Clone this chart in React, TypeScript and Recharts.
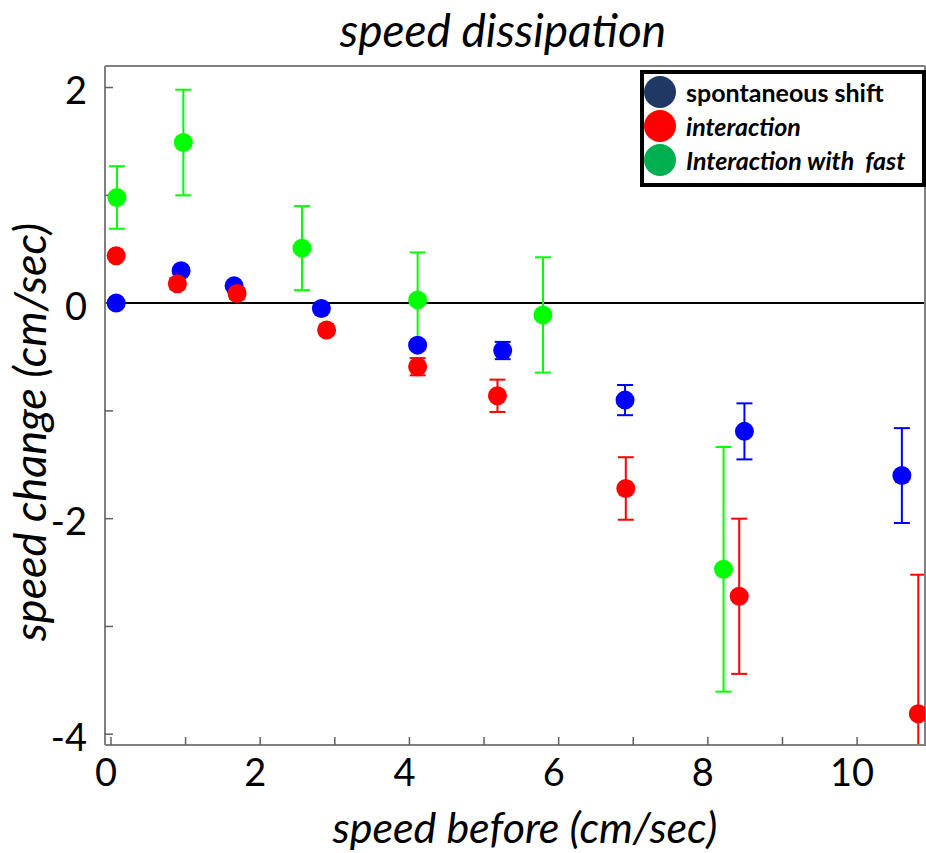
import React from 'react';
import { ScatterChart, Scatter, XAxis, YAxis, ErrorBar, ReferenceLine } from 'recharts';

// spontaneous shift (blue)
const spontX = [0.07, 0.94, 1.65, 2.82, 4.11, 5.25, 6.89, 8.49, 10.6];
const spontY = [0.0, 0.3, 0.16, -0.05, -0.39, -0.44, -0.9, -1.19, -1.6];
const spontErr = [0.02, 0.03, 0.03, 0.03, 0.03, 0.08, 0.14, 0.26, 0.44];

// interaction (red) - last point's lower bar runs off the axis, cut at the frame
const interX = [0.07, 0.89, 1.69, 2.89, 4.11, 5.18, 6.9, 8.42, 10.82];
const interY = [0.44, 0.18, 0.09, -0.25, -0.59, -0.86, -1.72, -2.72, -3.81];
const interErr: (number | number[])[] = [0.02, 0.05, 0.05, 0.03, 0.08, 0.15, 0.29, 0.72, [0.29, 1.29]];

// interaction with fast (green)
const fastX = [0.08, 0.97, 2.56, 4.11, 5.79, 8.21];
const fastY = [0.98, 1.49, 0.51, 0.03, -0.11, -2.47];
const fastErr = [0.29, 0.49, 0.39, 0.44, 0.535, 1.135];

const xTicks = [0, 1, 2, 3, 4, 5, 6, 7, 8, 9, 10];
const yTicks = [-4, -3, -2, -1, 0, 1, 2];

const legendItems = [
  { label: 'spontaneous shift', color: '#1f3864', italic: false },
  { label: 'interaction', color: '#ff0000', italic: true },
  { label: 'Interaction with  fast', color: '#00b050', italic: true },
];

const font = 'Lato, "Open Sans", sans-serif';

const toRows = (xs: number[], ys: number[], es: (number | number[])[]) =>
  xs.map((x, i) => ({ x, y: ys[i], err: es[i] }));

const dot = (color: string) => (p: any) => <circle cx={p.cx} cy={p.cy} r={9.5} fill={color} />;

const evenOnly = (v: number) => (v % 2 === 0 ? String(v) : '');

const axisStroke = { stroke: '#808080', strokeWidth: 2 };
const tickStroke = { stroke: '#606060', strokeWidth: 1.5 };

const App: React.FC = () => {
  return (
    <div style={{ position: 'absolute', left: 0, top: 0, width: 926, height: 853, background: '#fff', fontFamily: font, overflow: 'hidden' }}>
      <div style={{ position: 'absolute', left: 253, top: 6, width: 500, textAlign: 'center', fontSize: 46, fontStyle: 'italic', lineHeight: '48px' }}>
        speed dissipation
      </div>
      <ScatterChart width={926} height={853} margin={{ top: 65, right: 0, bottom: 48, left: 45 }}>
        <XAxis
          type="number"
          dataKey="x"
          domain={[-0.08, 10.91]}
          ticks={xTicks}
          interval={0}
          allowDataOverflow
          height={60}
          tickSize={-8}
          tickMargin={22}
          tickFormatter={evenOnly}
          axisLine={axisStroke}
          tickLine={tickStroke}
          tick={{ fill: '#000', fontSize: 38, fontFamily: font, dx: -5 }}
        />
        <XAxis
          xAxisId="top"
          orientation="top"
          type="number"
          domain={[-0.08, 10.91]}
          ticks={xTicks}
          interval={0}
          allowDataOverflow
          height={1}
          tickSize={-8}
          axisLine={axisStroke}
          tickLine={tickStroke}
          tick={false}
        />
        <YAxis
          type="number"
          dataKey="y"
          domain={[-4.1, 2.2]}
          ticks={yTicks}
          interval={0}
          allowDataOverflow
          width={60}
          tickSize={-8}
          tickMargin={26}
          tickFormatter={evenOnly}
          axisLine={axisStroke}
          tickLine={tickStroke}
          tick={{ fill: '#000', fontSize: 38, fontFamily: font, dy: 3 }}
        />
        <YAxis
          yAxisId="right"
          orientation="right"
          type="number"
          domain={[-4.1, 2.2]}
          ticks={yTicks}
          interval={0}
          allowDataOverflow
          width={1}
          tickSize={-8}
          axisLine={axisStroke}
          tickLine={tickStroke}
          tick={false}
        />
        <ReferenceLine y={0} stroke="#000" strokeWidth={2} />
        <Scatter data={toRows(spontX, spontY, spontErr)} shape={dot('#0000ff')} isAnimationActive={false}>
          <ErrorBar dataKey="err" direction="y" width={8} stroke="#0000ff" strokeWidth={2} />
        </Scatter>
        <Scatter data={toRows(interX, interY, interErr)} shape={dot('#ff0000')} isAnimationActive={false}>
          <ErrorBar dataKey="err" direction="y" width={8} stroke="#ff0000" strokeWidth={2} />
        </Scatter>
        <Scatter data={toRows(fastX, fastY, fastErr)} shape={dot('#00ff00')} isAnimationActive={false}>
          <ErrorBar dataKey="err" direction="y" width={8} stroke="#00ff00" strokeWidth={2} />
        </Scatter>
      </ScatterChart>
      <div style={{ position: 'absolute', left: 275, top: 805, width: 500, textAlign: 'center', fontSize: 43, fontStyle: 'italic', lineHeight: '44px' }}>
        speed before (cm/sec)
      </div>
      <div
        style={{
          position: 'absolute', left: 29 - 250, top: 432 - 24, width: 500, textAlign: 'center',
          fontSize: 45, fontStyle: 'italic', lineHeight: '48px', transform: 'rotate(-90deg)',
        }}
      >
        speed change (cm/sec)
      </div>
      <div
        style={{
          position: 'absolute', left: 640, top: 70, width: 286, height: 117, boxSizing: 'border-box',
          border: '4px solid #000', background: '#fff', overflow: 'hidden', paddingTop: 1,
        }}
      >
        {legendItems.map((item) => (
          <div key={item.label} style={{ display: 'flex', alignItems: 'center', height: 34, whiteSpace: 'nowrap' }}>
            <span style={{ width: 32, height: 32, borderRadius: 16, background: item.color, flex: 'none' }} />
            <span style={{ marginLeft: 10, fontSize: 25, fontWeight: 'bold', fontStyle: item.italic ? 'italic' : 'normal', whiteSpace: 'pre' }}>
              {item.label}
            </span>
          </div>
        ))}
      </div>
    </div>
  );
};

export default App;
